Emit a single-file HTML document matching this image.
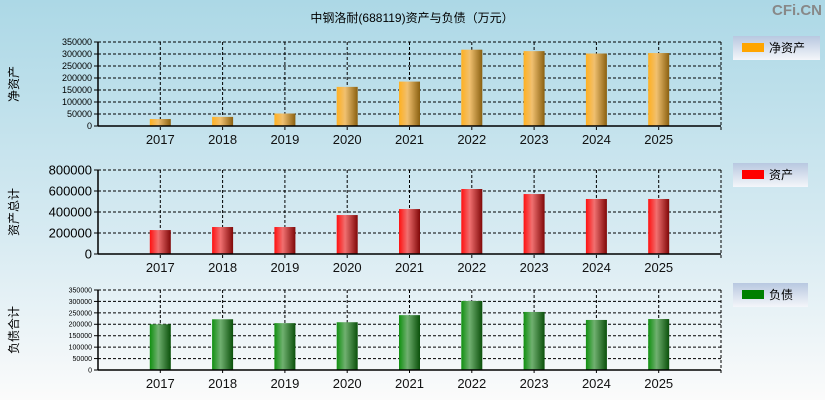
<!DOCTYPE html>
<html><head><meta charset="utf-8">
<style>
html,body{margin:0;padding:0;}
body{width:825px;height:400px;overflow:hidden;background:linear-gradient(#acd8e6,#d8ebf2 60%,#fbfbfb);font-family:"Liberation Sans","Noto Sans CJK SC",sans-serif;}
svg{display:block;}
svg text{font-family:"Liberation Sans","Noto Sans CJK SC",sans-serif;}
</style></head>
<body>
<svg id="c" width="825" height="400" xmlns="http://www.w3.org/2000/svg">
<defs>
<linearGradient id="gO" x1="0" x2="1"><stop offset="0" stop-color="#ffb020"/><stop offset="0.4" stop-color="#f0c070"/><stop offset="1" stop-color="#8a6010"/></linearGradient>
<linearGradient id="gR" x1="0" x2="1"><stop offset="0" stop-color="#ff1010"/><stop offset="0.4" stop-color="#f07070"/><stop offset="1" stop-color="#800808"/></linearGradient>
<linearGradient id="gG" x1="0" x2="1"><stop offset="0" stop-color="#109010"/><stop offset="0.4" stop-color="#70b070"/><stop offset="1" stop-color="#0a500a"/></linearGradient>
<linearGradient id="gL" x1="0" x2="0" y1="0" y2="1"><stop offset="0" stop-color="#b8c8e0"/><stop offset="1" stop-color="#f4f6fa"/></linearGradient>
</defs>
<text x="412" y="22" font-size="12" text-anchor="middle" fill="#000">中钢洛耐(688119)资产与负债（万元）</text>
<text x="822" y="15" font-size="15" font-weight="bold" text-anchor="end" fill="#888">CFi.CN</text>
</svg>
<script>
const years=["2017","2018","2019","2020","2021","2022","2023","2024","2025"];
const netAssets=[29000,38000,52000,163000,185000,318000,312000,302000,304000];
const totalAssets=[228000,257000,257000,371000,428000,619000,571000,524000,524000];
const liabilities=[200000,222000,205000,209000,240000,302000,254000,219000,223000];
const ticksTop=[0,50000,100000,150000,200000,250000,300000,350000];
const ticksMid=[0,200000,400000,600000,800000];
const ticksBot=[0,50000,100000,150000,200000,250000,300000,350000];
const NS="http://www.w3.org/2000/svg";
const svg=document.getElementById('c');
function mk(tag,attrs,parent){const e=document.createElementNS(NS,tag);for(const k in attrs)e.setAttribute(k,attrs[k]);(parent||svg).appendChild(e);return e;}
const X0=98,X1=721,slot=(X1-X0)/10;
function xC(i){return X0+(i+1)*slot;}
function panel(name,top,bot,ticks,max,vals,grad,legendLabel,legendColor,ytitle,tickFs,ly,lw){
  const g=mk('g',{});
  
  
  const yS=v=>bot-(v/max)*(bot-top);
  ticks.forEach(t=>{
    const y=yS(t);
    if(t>0){const l=mk('line',{x1:X0,x2:X1,y1:y,y2:y,stroke:'#000','stroke-dasharray':'3,2','stroke-width':1},g);
      }
    mk('line',{x1:X0-4,x2:X0,y1:y,y2:y,stroke:'#000'},g);
    const tx=mk('text',{x:X0-6,y:y+tickFs*0.35,'font-size':tickFs,'text-anchor':'end',fill:'#000'},g);
    tx.textContent=t;
    
    
  });
  years.forEach((yr,i)=>{
    const x=xC(i);
    mk('line',{x1:x,x2:x,y1:top,y2:bot+4,stroke:'#000','stroke-dasharray':'3,2'},g);
    const tx=mk('text',{x:x,y:bot+18,'font-size':13,'text-anchor':'middle',fill:'#111'},g);
    tx.textContent=yr;
    
    
    const r=mk('rect',{x:x-10.5,y:yS(vals[i]),width:21,height:bot-yS(vals[i]),fill:'url(#'+grad+')'},g);
    
    
  });
  mk('line',{x1:X1,x2:X1,y1:top,y2:bot+4,stroke:'#000','stroke-dasharray':'3,2'},g);
  mk('line',{x1:X0,x2:X0,y1:top,y2:bot,stroke:'#000','stroke-width':1.5},g);
  mk('line',{x1:X0,x2:X1,y1:bot,y2:bot,stroke:'#000','stroke-width':1.5},g);
  const yt=mk('text',{x:0,y:0,'font-size':12,'text-anchor':'middle',fill:'#000',transform:'translate(18,'+((top+bot)/2)+') rotate(-90)'},g);
  yt.textContent=ytitle;
  
  
  const lg=mk('g',{},g);
  
  
  mk('rect',{x:733,y:ly,width:lw,height:24,fill:'url(#gL)'},lg);
  mk('rect',{x:742,y:ly+7,width:22,height:9,fill:legendColor},lg);
  const lt=mk('text',{x:769,y:ly+16,'font-size':12,fill:'#000'},lg);
  lt.textContent=legendLabel;
}
panel('net-assets',42,126,ticksTop,350000,netAssets,'gO','净资产','#ffa500','净资产',9,36,87);
panel('total-assets',170,254,ticksMid,800000,totalAssets,'gR','资产','#ff0000','资产总计',13,163,75);
panel('liabilities',290,370,ticksBot,350000,liabilities,'gG','负债','#008000','负债合计',7,283,75);
</script>
</body></html>
